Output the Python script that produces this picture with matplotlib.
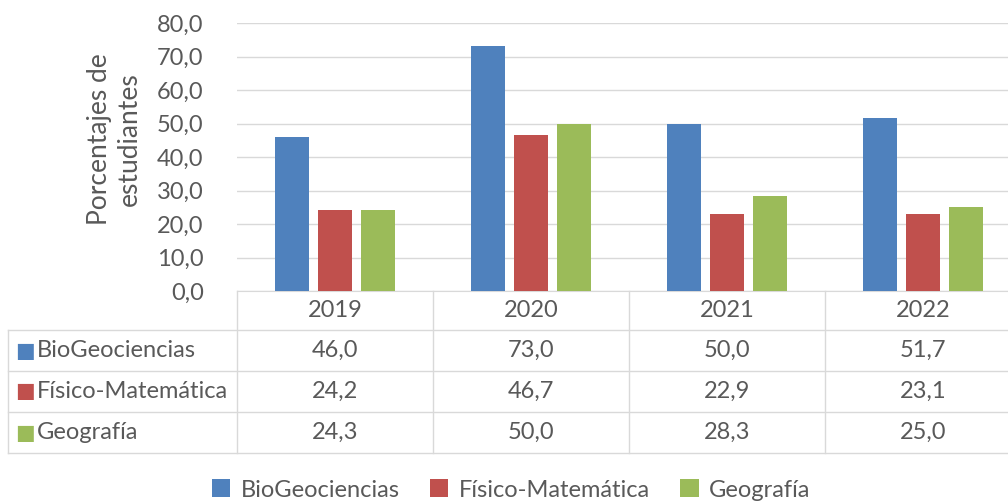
import numpy as np
import matplotlib
matplotlib.use('Agg')
from matplotlib import pyplot as plt
from matplotlib.transforms import blended_transform_factory

# datos
anios = ['2019', '2020', '2021', '2022']
series = ['BioGeociencias', 'Físico-Matemática', 'Geografía']
bio = [46.0, 73.0, 50.0, 51.7]
fis = [24.2, 46.7, 22.9, 23.1]
geo = [24.3, 50.0, 28.3, 25.0]
colores = ['#4F81BD', '#C0504D', '#9BBB59']

plt.rcParams['font.family'] = ['Lato', 'DejaVu Sans']
gris = '#595959'
linea = '#D9D9D9'
fs = 17

fig = plt.figure(figsize=(10.08, 5.01), dpi=100)
W, H = 1008, 501
# ejes: x de 237 px a 1021 px, y de 23 px (80) a 291 px (0)
ax = fig.add_axes([237 / W, 1 - 291 / H, 784 / W, 268 / H])

x = np.arange(len(anios))
ancho = 0.175
desp = [-0.22, 0.0, 0.22]
valores = [bio, fis, geo]
for v, d, c, nombre in zip(valores, desp, colores, series):
    ax.bar(x + d, v, ancho, color=c, label=nombre, zorder=3)

ax.set_xlim(-0.5, len(anios) - 0.5)
ax.set_ylim(0, 80)
ax.set_yticks(np.arange(0, 81, 10))
ax.set_yticklabels([f'{t:.1f}'.replace('.', ',') for t in np.arange(0, 81, 10)])
ax.yaxis.grid(True, color=linea, linewidth=1, zorder=0)
ax.tick_params(axis='y', length=0, pad=24, labelsize=fs, labelcolor=gris)
ax.set_xticks([])
for lado in ['top', 'right', 'left']:
    ax.spines[lado].set_visible(False)
ax.spines['bottom'].set_color(linea)

fig.text(114 / W, 1 - 139 / H, 'Porcentajes de\nestudiantes', rotation=90,
         ha='center', va='center', fontsize=19, color=gris, linespacing=1.25)

# tabla de datos debajo del grafico
tr = blended_transform_factory(ax.transData, ax.transAxes)
fila = 41 / 268
y_enc = -39 / 268
izq = (8 - 237) / 784 * len(anios) - 0.5  # borde izquierdo en unidades de datos

for i, a in enumerate(anios):
    ax.text(i, y_enc / 2, a, transform=tr, ha='center', va='center',
            fontsize=fs, color=gris, clip_on=False)
    for j, v in enumerate(valores):
        yc = y_enc - fila * (j + 0.5)
        ax.text(i, yc, f'{v[i]:.1f}'.replace('.', ','), transform=tr,
                ha='center', va='center', fontsize=fs, color=gris, clip_on=False)

for j, (nombre, c) in enumerate(zip(series, colores)):
    yc = y_enc - fila * (j + 0.5)
    ax.text(izq + 0.035, yc, '\u25A0', transform=tr, ha='left', va='center',
            fontsize=15, color=c, clip_on=False, family='DejaVu Sans')
    ax.text(izq + 0.145, yc, nombre, transform=tr, ha='left', va='center',
            fontsize=fs, color=gris, clip_on=False)

y_fin = y_enc - 3 * fila
for k in range(4):
    yy = y_enc - fila * k
    ax.plot([izq, len(anios) - 0.5], [yy, yy], transform=tr, color=linea,
            linewidth=1, clip_on=False)
for b in np.arange(-0.5, len(anios), 1.0):
    ax.plot([b, b], [0, y_fin], transform=tr, color=linea, linewidth=1, clip_on=False)
ax.plot([izq, izq], [y_enc, y_fin], transform=tr, color=linea, linewidth=1, clip_on=False)

leg = fig.legend(loc='center', bbox_to_anchor=(0.507, 1 - 490 / H), ncol=3,
                 frameon=False, fontsize=fs, handlelength=0.8, handleheight=0.8,
                 columnspacing=1.25, handletextpad=0.45)
for t in leg.get_texts():
    t.set_color(gris)

fig.savefig('out.png', dpi=100)
